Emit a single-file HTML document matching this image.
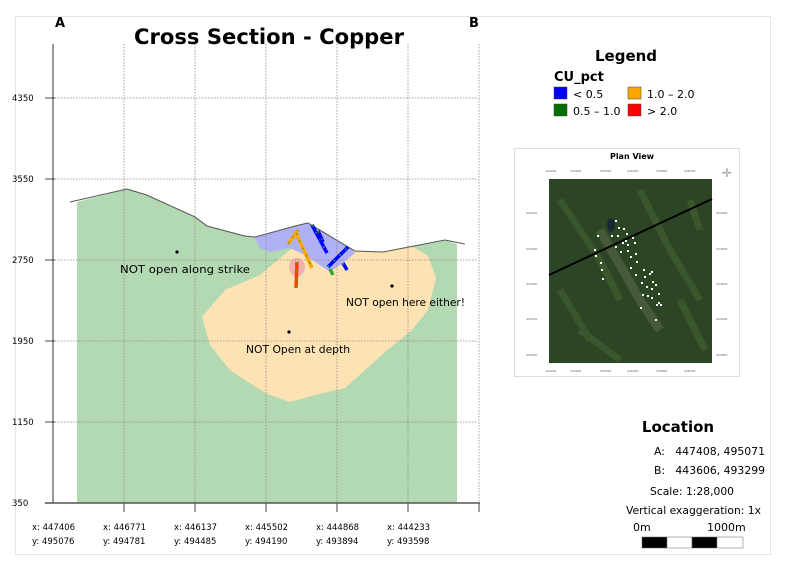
<!DOCTYPE html>
<html><head><meta charset="utf-8"><style>
body{margin:0;background:#fff;font-family:"Liberation Sans","DejaVu Sans",sans-serif}
#root{position:relative;width:785px;height:570px;overflow:hidden}
</style></head><body>
<div id="root">
<svg id="chart" width="785" height="570" xmlns="http://www.w3.org/2000/svg">
<defs><clipPath id="ground"><path id="groundPath" d=""/></clipPath></defs>
<rect x="15.5" y="16.5" width="755" height="538" fill="none" stroke="#e4e4e4"/>
<text x="55" y="27" font-size="13" font-weight="bold" font-family="DejaVu Sans, sans-serif">A</text>
<text x="469" y="27" font-size="13" font-weight="bold" font-family="DejaVu Sans, sans-serif">B</text>
<text x="269" y="44" font-size="21" font-weight="bold" text-anchor="middle" font-family="DejaVu Sans, sans-serif" textLength="270" lengthAdjust="spacingAndGlyphs">Cross Section - Copper</text>
<g id="geo"></g>
<g id="grid"></g>
<g id="axes"></g>
<g id="holes"></g>
<g id="notes" font-family="DejaVu Sans, sans-serif">
<circle cx="177" cy="252" r="1.6" fill="#000"/>
<text x="120" y="273" font-size="11" textLength="130" lengthAdjust="spacingAndGlyphs">NOT open along strike</text>
<circle cx="289" cy="332" r="1.6" fill="#000"/>
<text x="246" y="353" font-size="11" textLength="104" lengthAdjust="spacingAndGlyphs">NOT Open at depth</text>
<circle cx="392" cy="286" r="1.6" fill="#000"/>
<text x="346" y="306" font-size="11" textLength="119" lengthAdjust="spacingAndGlyphs">NOT open here either!</text>
</g>
<g font-family="DejaVu Sans, sans-serif">
<text x="626" y="61" font-size="15" font-weight="bold" text-anchor="middle">Legend</text>
<text x="554" y="81" font-size="13" font-weight="bold">CU_pct</text>
<rect x="554" y="87" width="13" height="12" fill="#0000ff" stroke="#444" stroke-width="0.5"/>
<text x="573" y="98" font-size="11">&lt; 0.5</text>
<rect x="628" y="87" width="13" height="12" fill="#ffa500" stroke="#444" stroke-width="0.5"/>
<text x="647" y="98" font-size="11">1.0 – 2.0</text>
<rect x="554" y="104" width="13" height="12" fill="#007000" stroke="#444" stroke-width="0.5"/>
<text x="573" y="115" font-size="11">0.5 – 1.0</text>
<rect x="628" y="104" width="13" height="12" fill="#ff0000" stroke="#444" stroke-width="0.5"/>
<text x="647" y="115" font-size="11">&gt; 2.0</text>
</g>
<g>
<rect x="514.5" y="148.5" width="225" height="228" fill="#fff" stroke="#ddd"/>
<text x="632" y="159" font-size="8" font-weight="bold" text-anchor="middle" font-family="DejaVu Sans, sans-serif">Plan View</text>
<rect x="549" y="179" width="163" height="184" fill="#2c4524"/>
<path d="M560 200 L600 260 L620 300 M640 190 L670 250 L700 300 M580 330 L620 360 M690 200 L700 230 M560 290 L590 340 M680 300 L705 350" stroke="#3f5e32" stroke-width="7" fill="none" opacity="0.7"/>
<path d="M600 230 L640 300 L660 330" stroke="#5f6e4b" stroke-width="9" fill="none" opacity="0.5"/>
<ellipse cx="611" cy="225" rx="4" ry="7" fill="#1a2a35"/>
<line x1="549" y1="275" x2="712" y2="199" stroke="#000" stroke-width="2"/>
<g id="pdots" fill="#fff"></g>
<g font-size="3" fill="#666" font-family="DejaVu Sans">
<text x="545" y="172">444200</text><text x="570" y="172">444600</text><text x="600" y="172">445000</text><text x="627" y="172">445400</text><text x="656" y="172">445800</text><text x="684" y="172">446200</text>
<text x="545" y="372">444200</text><text x="570" y="372">444600</text><text x="600" y="372">445000</text><text x="627" y="372">445400</text><text x="656" y="372">445800</text><text x="684" y="372">446200</text>
<text x="526" y="214">494400</text><text x="526" y="250">494000</text><text x="526" y="285">493600</text><text x="526" y="320">493200</text><text x="526" y="356">492800</text>
<text x="716" y="214">494400</text><text x="716" y="250">494000</text><text x="716" y="285">493600</text><text x="716" y="320">493200</text><text x="716" y="356">492800</text>
</g>
<text x="727" y="177" font-size="12" fill="#999" text-anchor="middle">✛</text>
</g>
<g font-family="DejaVu Sans, sans-serif" font-size="11">
<text x="678" y="432" font-size="15" font-weight="bold" text-anchor="middle">Location</text>
<text x="654" y="455" textLength="111" lengthAdjust="spacingAndGlyphs">A:&#160;&#160; 447408, 495071</text>
<text x="654" y="474" textLength="111" lengthAdjust="spacingAndGlyphs">B:&#160;&#160; 443606, 493299</text>
<text x="650" y="495" textLength="84" lengthAdjust="spacingAndGlyphs">Scale: 1:28,000</text>
<text x="626" y="514" textLength="135" lengthAdjust="spacingAndGlyphs">Vertical exaggeration: 1x</text>
<text x="633" y="531">0m</text>
<text x="707" y="531">1000m</text>
<g stroke="#666" stroke-width="0.5">
<rect x="642" y="537" width="25" height="11" fill="#000"/><rect x="667" y="537" width="25" height="11" fill="#fff"/>
<rect x="692" y="537" width="25" height="11" fill="#000"/><rect x="717" y="537" width="26" height="11" fill="#fff"/>
</g>
</g>
</svg>
</div>
<script>
const NS="http://www.w3.org/2000/svg";
const yTicks=[350,1150,1950,2750,3550,4350];
const xTickX=["447406","446771","446137","445502","444868","444233"];
const xTickY=["495076","494781","494485","494190","493894","493598"];
const terrainDist=[-0.76,0.04,0.32,1.0,1.17,1.70,1.85,2.41,2.59,3.25,3.65,4.52,4.80];
const terrainElev=[3323,3451,3392,3175,3086,2987,2977,3086,3116,2839,2829,2948,2908];
const xS=d=>124+71*d;
const yS=e=>503-(e-350)*81/800;
function mk(tag,attrs,parent){const el=document.createElementNS(NS,tag);for(const k in attrs)el.setAttribute(k,attrs[k]);parent.appendChild(el);return el;}
const geo=document.getElementById('geo'),grid=document.getElementById('grid'),axes=document.getElementById('axes');
let gp="M77 503 ";
terrainDist.forEach((d,i)=>{let x=Math.max(77,Math.min(457,xS(d)));gp+="L"+x+" "+yS(terrainElev[i])+" ";});
gp+="L457 503 Z";
document.getElementById('groundPath').setAttribute('d',gp);
let g1=mk('path',{d:gp,fill:'#b3d9b3'},geo);


const cg=mk('g',{'clip-path':'url(#ground)'},geo);
let orb=mk('path',{d:"M202 317 L225 290 L260 275 L290 250 L300 243 L315 260 L340 255 L365 247 L410 245 L428 256 L436 278 L428 310 L412 330 L385 352 L345 388 L315 395 L290 402 L265 393 L230 370 L210 345 Z",fill:'#fde3b3'},cg);


let bl=mk('path',{d:"M252 232 L295 225 L308 222 L350 248 L355 253 L343 263 L330 272 L305 255 L290 248 L270 252 L260 248 Z",fill:'#b0b0f5'},cg);


let pk=mk('ellipse',{cx:297,cy:267,rx:8,ry:9,fill:'#f5b0b0'},geo);


let tp="";terrainDist.forEach((d,i)=>{tp+=(i?"L":"M")+xS(d)+" "+yS(terrainElev[i])+" ";});
let tl=mk('path',{d:tp,fill:'none',stroke:'#555','stroke-width':1},geo);


yTicks.forEach((v,i)=>{const y=yS(v);
 if(i>0){let l=mk('line',{x1:55,x2:478,y1:y,y2:y,stroke:'#888','stroke-dasharray':'1.5,1.5','stroke-width':0.8},grid);}
 mk('line',{x1:45,x2:55,y1:y,y2:y,stroke:'#444'},axes);
 let tx=mk('text',{x:12,y:y+3,'font-size':8.5,'font-family':'DejaVu Sans, sans-serif'},axes);tx.textContent=v;
 
 
});
xTickX.forEach((lab,i)=>{const x=xS(i);
 let l=mk('line',{x1:x,x2:x,y1:44,y2:503,stroke:'#888','stroke-dasharray':'1.5,1.5','stroke-width':0.8},grid);
 
 
 mk('line',{x1:x,x2:x,y1:503,y2:512,stroke:'#444'},axes);
 const lx=32+71*i;
 let t1=mk('text',{x:lx,y:530,'font-size':8.5,'font-family':'DejaVu Sans, sans-serif'},axes);t1.textContent="x: "+lab;
 
 
 let t2=mk('text',{x:lx,y:544,'font-size':8.5,'font-family':'DejaVu Sans, sans-serif'},axes);t2.textContent="y: "+xTickY[i];
 
 
});
let ya=mk('line',{x1:53,x2:53,y1:44,y2:503,stroke:'#333'},axes);


let xa=mk('line',{x1:45,x2:480,y1:503,y2:503,stroke:'#555','stroke-width':1.5},axes);


const holes=document.getElementById('holes');
[[[288,244,298,230],'#ffa500'],[[296,233,312,268],'#ffa500'],[[297,262,296,288],'#ff4000'],[[312,225,327,253],'#0000ff'],[[318,231,323,242],'#0000ff'],[[328,267,348,247],'#0000ff'],[[343,263,347,270],'#0000ff'],[[330,269,333,275],'#33aa33']].forEach(([c,col])=>{
 let h=mk('line',{x1:c[0],y1:c[1],x2:c[2],y2:c[3],stroke:col,'stroke-width':3.5},holes);
 
 
 mk('line',{x1:c[0],y1:c[1],x2:c[2],y2:c[3],stroke:'#33aa33','stroke-width':1.5,'stroke-dasharray':'2,6',opacity:0.8},holes);
});
const pd=document.getElementById('pdots');
[[616,221],[619,228],[624,229],[627,234],[626,241],[623,243],[628,245],[633,238],[635,243],[618,236],[612,236],[598,236],[595,250],[596,256],[601,263],[602,270],[603,279],[616,247],[621,252],[628,251],[631,257],[636,254],[637,262],[631,268],[636,275],[644,270],[645,277],[650,274],[652,272],[653,282],[642,283],[647,287],[652,289],[656,285],[643,295],[648,296],[652,298],[659,294],[659,303],[657,305],[661,305],[641,308],[656,320]].forEach(p=>{mk('rect',{x:p[0]-1,y:p[1]-1,width:2,height:2},pd);});
</script>
</body></html>
